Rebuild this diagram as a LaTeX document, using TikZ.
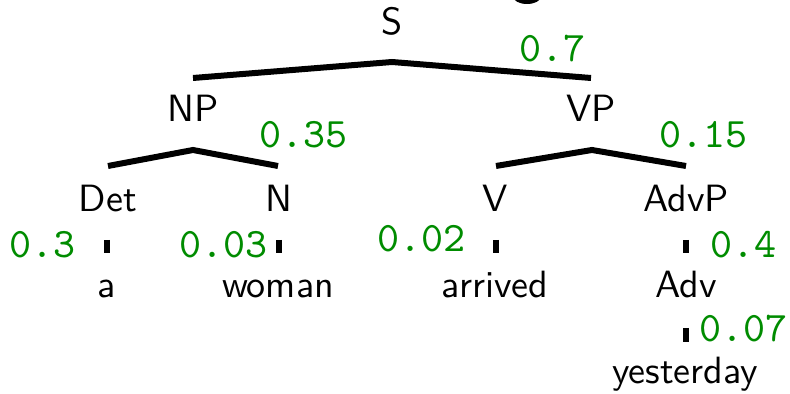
\documentclass[tikz,border=0pt]{standalone}
\usepackage{fontspec}
\newfontfamily\labfont{lmsans10-regular}[Extension=.otf]
\newfontfamily\probfont{lmmono10-regular}[Extension=.otf]
\begin{document}
\begin{tikzpicture}[x=0.5pt,y=-0.5pt,
  lab/.style={font=\labfont\fontsize{19}{21}\selectfont, inner sep=0pt, anchor=base, text=black},
  prob/.style={font=\probfont\fontsize{21}{22}\selectfont, inner sep=0pt, anchor=base west, text=probgreen},
  branch/.style={line width=3pt, line cap=butt, line join=miter},
  tick/.style={line width=3pt, line cap=butt}]
\definecolor{probgreen}{RGB}{0,140,0}
\useasboundingbox (0,0) rectangle (790,394);
\begin{scope}
  \clip (0,0) rectangle (790,394);
  \fill[black] (527,-3) ellipse (6.8pt and 3.5pt);
\end{scope}
% labels
\node[lab] (S) at (392,35) {S};
\node[lab] (NP) at (193,122) {NP};
\node[lab] (VP) at (591,122) {VP};
\node[lab] (Det) at (108,212) {Det};
\node[lab] (N) at (279,212) {N};
\node[lab] (V) at (495,212) {V};
\node[lab] (AdvP) at (686,212) {AdvP};
\node[lab] (a) at (107,298) {a};
\node[lab] (woman) at (278,298) {woman};
\node[lab] (arrived) at (495,298) {arrived};
\node[lab] (Adv) at (686,298) {Adv};
\node[lab] (yesterday) at (685,383) {yesterday};
% branch points
\coordinate (Sapex) at (392,62);
\coordinate (NPtop) at (193,78);
\coordinate (VPtop) at (591,78);
\coordinate (NPapex) at (193,150);
\coordinate (Dettop) at (108,166);
\coordinate (Ntop) at (278,166);
\coordinate (VPapex) at (592,150);
\coordinate (Vtop) at (496,166);
\coordinate (AdvPtop) at (686,166);
\draw[branch] (NPtop) -- (Sapex) -- (VPtop);
\draw[branch] (Dettop) -- (NPapex) -- (Ntop);
\draw[branch] (Vtop) -- (VPapex) -- (AdvPtop);
% lexical ticks
\draw[tick] (107,240) -- (107,253);
\draw[tick] (279,240) -- (279,253);
\draw[tick] (496,240) -- (496,253);
\draw[tick] (686,240) -- (686,253);
\draw[tick] (686,328) -- (686,342);
% probabilities
\node[prob] (p7) at (519,62) {0.7};
\node[prob] (p35) at (259,148) {0.35};
\node[prob] (p15) at (659,148) {0.15};
\node[prob] (p3) at (9,258) {0.3};
\node[prob] (p03) at (179,258) {0.03};
\node[prob] (p02) at (377,252) {0.02};
\node[prob] (p4) at (710,258) {0.4};
\node[prob] (p07) at (699,342) {0.07};
\end{tikzpicture}
\end{document}
